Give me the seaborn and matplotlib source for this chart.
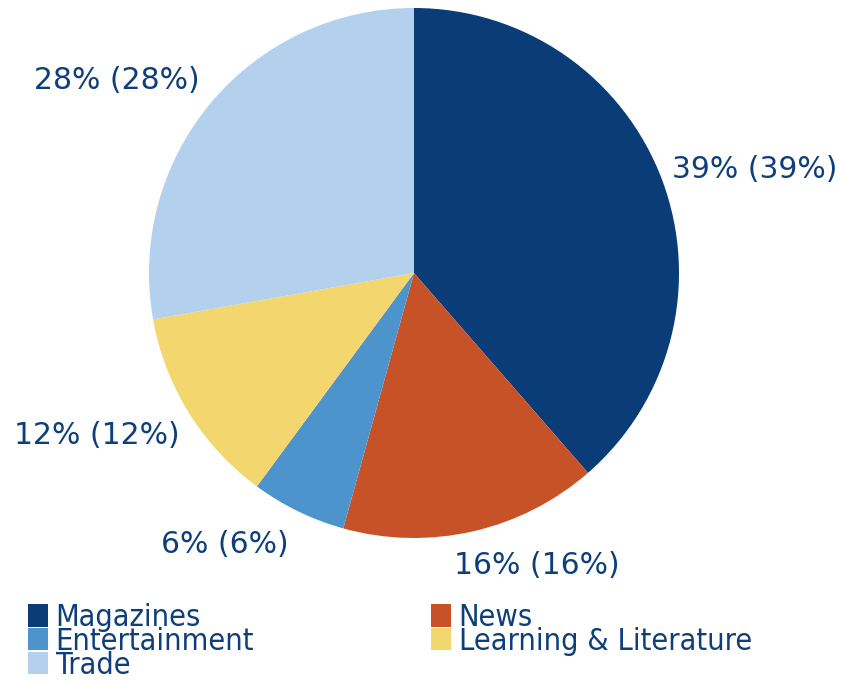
import matplotlib
matplotlib.use('Agg')
import matplotlib.pyplot as plt
import seaborn as sns

# slice data
categories = ['Magazines', 'News', 'Entertainment', 'Learning & Literature', 'Trade']
shares = [38.6, 15.7, 5.8, 12.1, 27.8]
shown_pct = [39, 16, 6, 12, 28]
colors = ['#0a3c78', '#c85228', '#4d94cd', '#f3d66e', '#b3d1ec']
text_color = '#0f3f7a'

# label centres in units of the pie radius (layout only)
label_pos = [(1.287, 0.389), (0.464, -1.102), (-0.713, -1.026),
             (-1.196, -0.615), (-1.121, 0.728)]

sns.set_theme(style='white')
plt.rcParams['font.family'] = ['DejaVu Sans']

fig = plt.figure(figsize=(8.41, 6.81), dpi=100)
ax = fig.add_axes([149 / 841, 143 / 681, 530 / 841, 530 / 681])

labels = [f'{p}% ({p}%)' for p in shown_pct]
wedges, texts = ax.pie(shares, colors=sns.color_palette(colors), startangle=90,
                       counterclock=False, labels=labels, labeldistance=1.1,
                       wedgeprops=dict(linewidth=0),
                       textprops=dict(color=text_color, fontsize=21.5))
for t, pos in zip(texts, label_pos):
    t.set_position(pos)
    t.set_ha('center')
    t.set_va('center')
ax.set_xlim(-1, 1)
ax.set_ylim(-1, 1)
ax.set_aspect('equal')
ax.axis('off')

# order legend row-wise like the reference (2 columns)
order = [0, 2, 4, 1, 3]
leg = fig.legend([wedges[i] for i in order], [categories[i] for i in order],
                 loc='upper left', bbox_to_anchor=(28 / 841, 1 - 603 / 681),
                 ncol=2, frameon=False,
                 prop=dict(family='DejaVu Sans', stretch='condensed', size=22),
                 handlelength=0.65, handleheight=0.75, handletextpad=0.25,
                 labelspacing=-0.17, columnspacing=5.8, borderpad=0,
                 borderaxespad=0)
for t in leg.get_texts():
    t.set_color(text_color)

fig.savefig('out.png', dpi=100)
